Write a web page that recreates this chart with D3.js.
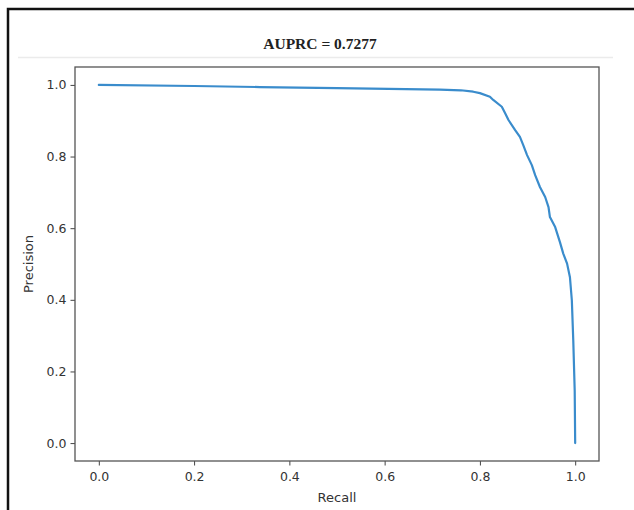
<!DOCTYPE html>
<html>
<head>
<meta charset="utf-8">
<script src="https://cdn.jsdelivr.net/npm/d3@7/dist/d3.min.js"></script>
<style>
  html, body { margin: 0; padding: 0; background: #fff; }
  svg { display: block; }
</style>
</head>
<body>
<svg id="chart" width="634" height="510"></svg>
<script>
// ---- data ----
const recall = [0.000, 0.200, 0.338, 0.500, 0.716, 0.760, 0.786, 0.800, 0.821, 0.828, 0.846, 0.853, 0.860,
  0.874, 0.884, 0.891, 0.899, 0.909, 0.916, 0.926, 0.937, 0.944, 0.947, 0.958, 0.968, 0.975, 0.983,
  0.989, 0.993, 0.996, 0.999, 1.000];
const precision = [1.000, 0.997, 0.994, 0.991, 0.987, 0.985, 0.981, 0.977, 0.967, 0.958, 0.939, 0.921, 0.902,
  0.874, 0.855, 0.832, 0.804, 0.776, 0.748, 0.715, 0.687, 0.659, 0.631, 0.603, 0.561, 0.529, 0.501,
  0.463, 0.398, 0.286, 0.146, 0.000];
const xTicks = [0.0, 0.2, 0.4, 0.6, 0.8, 1.0];
const yTicks = [0.0, 0.2, 0.4, 0.6, 0.8, 1.0];
const titleText = "AUPRC = 0.7277";
const xLabel = "Recall";
const yLabel = "Precision";

(function () {
const svg = d3.select("#chart");

// outer frame (top + left borders of the screenshot)
svg.append("path")
  .attr("d", "M8,510 V9 H634")
  .attr("fill", "none")
  .attr("stroke", "#111")
  .attr("stroke-width", 2.5);

// faint separator under the title
svg.append("line")
  .attr("x1", 18).attr("x2", 613)
  .attr("y1", 57.5).attr("y2", 57.5)
  .attr("stroke", "#ebebeb").attr("stroke-width", 1.5);

// title
svg.append("text")
  .attr("x", 320).attr("y", 49)
  .attr("text-anchor", "middle")
  .attr("font-family", "'Liberation Serif', 'Times New Roman', serif")
  .attr("font-weight", "bold")
  .attr("font-size", 15.5)
  .attr("fill", "#222")
  .text(titleText);

const pL = 75, pR = 599, pT = 67, pB = 461;
const x = d3.scaleLinear().domain([-0.05, 1.05]).range([pL, pR]);
const y = d3.scaleLinear().domain([-0.05, 1.05]).range([pB, pT]);

const fontFam = "'DejaVu Sans', Verdana, sans-serif";

// axes
const xAxis = svg.append("g")
  .attr("transform", `translate(0,${pB})`)
  .call(d3.axisBottom(x).tickValues(xTicks).tickFormat(d3.format(".1f")).tickSize(4.5).tickPadding(4));
const yAxis = svg.append("g")
  .attr("transform", `translate(${pL},0)`)
  .call(d3.axisLeft(y).tickValues(yTicks).tickFormat(d3.format(".1f")).tickSize(4.5).tickPadding(4));

[xAxis, yAxis].forEach(g => {
  g.select(".domain").remove();
  g.selectAll("line").attr("stroke", "#444").attr("stroke-width", 1);
  g.selectAll("text")
    .attr("font-family", fontFam)
    .attr("font-size", 12.5)
    .attr("fill", "#333");
});
xAxis.selectAll("text").attr("dy", "0.95em");

// plot frame
svg.append("rect")
  .attr("x", pL).attr("y", pT)
  .attr("width", pR - pL).attr("height", pB - pT)
  .attr("fill", "none")
  .attr("stroke", "#555")
  .attr("stroke-width", 1.3);

// curve
const pts = recall.map((r, i) => [r, precision[i]]);
svg.append("path")
  .datum(pts)
  .attr("fill", "none")
  .attr("stroke", "#3a8ccc")
  .attr("stroke-width", 2.2)
  .attr("stroke-linejoin", "round")
  .attr("stroke-linecap", "round")
  .attr("d", d3.line().x(d => x(d[0])).y(d => y(d[1])));

// axis labels
svg.append("text")
  .attr("x", (pL + pR) / 2).attr("y", 502)
  .attr("text-anchor", "middle")
  .attr("font-family", fontFam)
  .attr("font-size", 13)
  .attr("fill", "#333")
  .text(xLabel);

svg.append("text")
  .attr("transform", `translate(33,${(pT + pB) / 2}) rotate(-90)`)
  .attr("text-anchor", "middle")
  .attr("font-family", fontFam)
  .attr("font-size", 13)
  .attr("fill", "#333")
  .text(yLabel);
})();
</script>
</body>
</html>
